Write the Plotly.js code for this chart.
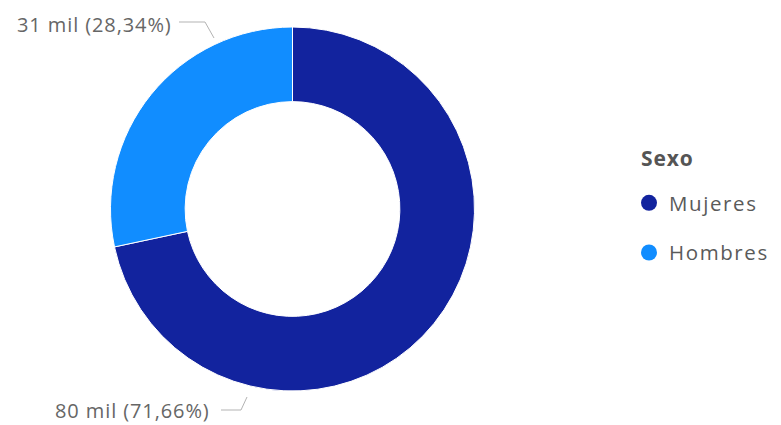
<!DOCTYPE html>
<html>
<head>
<meta charset="utf-8">
<script src="https://cdn.plot.ly/plotly-3.0.1.min.js"></script>
<style>
html,body{margin:0;padding:0;background:#fff;}
#chart{width:781px;height:425px;}
.annotation-text{letter-spacing:0.9px;}
.legendtext{letter-spacing:1.6px;}
</style>
</head>
<body>
<div id="chart"></div>
<script>
// Data
const categories = ["Mujeres", "Hombres"];
const values = [79500, 31440];
const displayValues = ["80 mil", "31 mil"];
const colors = ["#12239E", "#118DFF"];
const legendTitle = "Sexo";

const total = values.reduce((a, b) => a + b, 0);
const pctText = values.map(v => (v / total * 100).toFixed(2).replace(".", ","));
const labelText = displayValues.map((d, i) => d + " (" + pctText[i] + "%)");

const W = 781, H = 425;
const px = x => x / W;
const py = y => 1 - y / H;

const cx = 292.5, cy = 209, R = 182;

const pie = {
  type: "pie",
  labels: categories,
  values: values,
  sort: false,
  direction: "clockwise",
  rotation: 0,
  hole: 0.59,
  textinfo: "none",
  hoverinfo: "label+value+percent",
  marker: { colors: colors, line: { color: "#ffffff", width: 1 } },
  domain: { x: [px(cx - R), px(cx + R)], y: [py(cy + R), py(cy - R)] },
  showlegend: false
};

const legendTraces = categories.map((c, i) => ({
  type: "scatter",
  mode: "markers",
  x: [null], y: [null],
  name: c,
  legendgroup: c,
  marker: { color: colors[i], size: 17, symbol: "circle" },
  hoverinfo: "skip",
  showlegend: true
}));

const textColor = "#666666";
const lineColor = "#B3B3B3";

const layout = {
  width: W, height: H,
  margin: { l: 0, r: 0, t: 0, b: 0 },
  paper_bgcolor: "#ffffff",
  plot_bgcolor: "#ffffff",
  font: { family: "Open Sans, Noto Sans, sans-serif", color: textColor, size: 20 },
  xaxis: { visible: false, domain: [0.9, 1] },
  yaxis: { visible: false, domain: [0.9, 1] },
  showlegend: true,
  legend: {
    x: px(629), y: py(183), xanchor: "left", yanchor: "top",
    tracegroupgap: 20,
    font: { size: 20.5, color: "#5a5a5a" },
    itemclick: false, itemdoubleclick: false
  },
  annotations: [
    { x: px(639), y: py(158), xref: "paper", yref: "paper", xanchor: "left", yanchor: "middle",
      text: "<b>" + legendTitle + "</b>", showarrow: false, font: { size: 21, color: "#555555" } },
    { x: px(174), y: py(24), xref: "paper", yref: "paper", xanchor: "right", yanchor: "middle",
      text: labelText[1], showarrow: false, font: { size: 20, color: textColor } },
    { x: px(212), y: py(410), xref: "paper", yref: "paper", xanchor: "right", yanchor: "middle",
      text: labelText[0], showarrow: false, font: { size: 20, color: textColor } }
  ],
  shapes: [
    { type: "path", xref: "paper", yref: "paper",
      path: "M " + px(179) + " " + py(22) + " L " + px(205) + " " + py(22) + " L " + px(214) + " " + py(38),
      line: { color: lineColor, width: 1 } },
    { type: "path", xref: "paper", yref: "paper",
      path: "M " + px(221) + " " + py(410) + " L " + px(241) + " " + py(410) + " L " + px(247) + " " + py(397),
      line: { color: lineColor, width: 1 } }
  ]
};

Plotly.newPlot("chart", [pie].concat(legendTraces), layout, { displayModeBar: false, staticPlot: true });
</script>
</body>
</html>
